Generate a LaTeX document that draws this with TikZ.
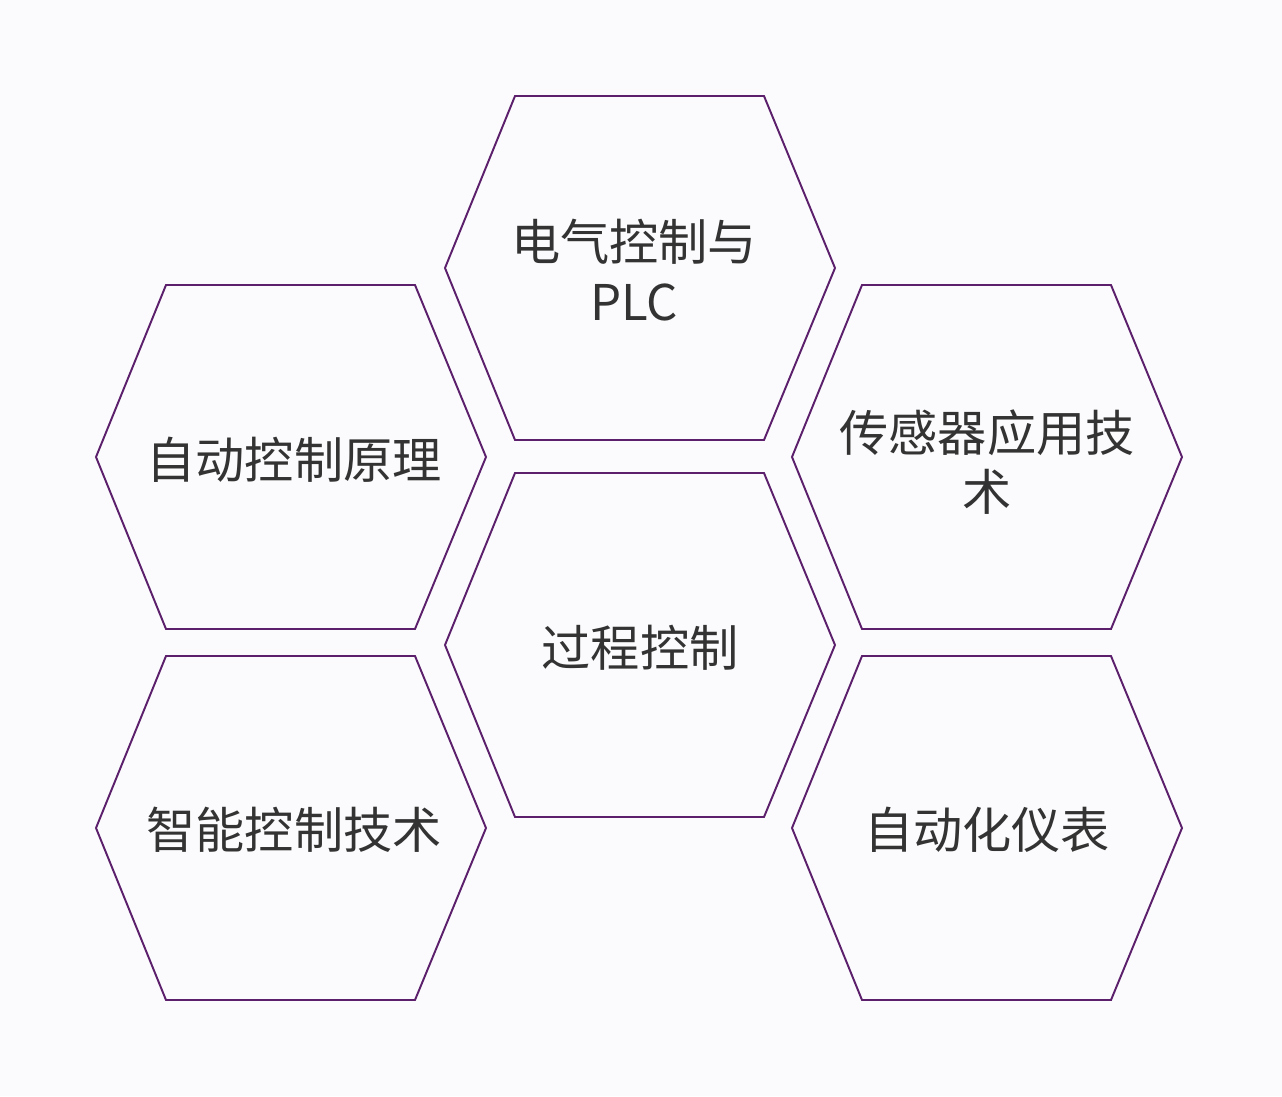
\documentclass[tikz,border=0pt]{standalone}
\usepackage{fontspec}
\newfontfamily\cjk{Noto Sans CJK SC}
\definecolor{hexc}{HTML}{5B1F6B}
\definecolor{txtc}{HTML}{333333}
\definecolor{bgc}{HTML}{FBFBFD}
\begin{document}
\begin{tikzpicture}[x=0.02cm,y=-0.02cm,
  lbl/.style={font=\cjk\fontsize{28}{34}\selectfont,text=txtc,align=center}]
\fill[bgc] (0,0) rectangle (1282,1096);
\useasboundingbox (0,0) rectangle (1282,1096);
\foreach \n/\cx/\cy in {h1/640/268,h2/640/645,h3/291/457,h4/291/828,h5/987/457,h6/987/828}{
  \draw[hexc,line width=1.1pt,line join=miter] (\cx-125,\cy-172) -- (\cx+124,\cy-172) -- (\cx+195,\cy) -- (\cx+124,\cy+172) -- (\cx-125,\cy+172) -- (\cx-195,\cy) -- cycle;
}
\node[lbl] (t1) at (634,270) {电气控制与\\PLC};
\node[lbl] (t2) at (640,648) {过程控制};
\node[lbl] (t3) at (294,460) {自动控制原理};
\node[lbl] (t4) at (294,830) {智能控制技术};
\node[lbl] (t5) at (987,462) {传感器应用技\\术};
\node[lbl] (t6) at (987,830) {自动化仪表};
\end{tikzpicture}
\end{document}
